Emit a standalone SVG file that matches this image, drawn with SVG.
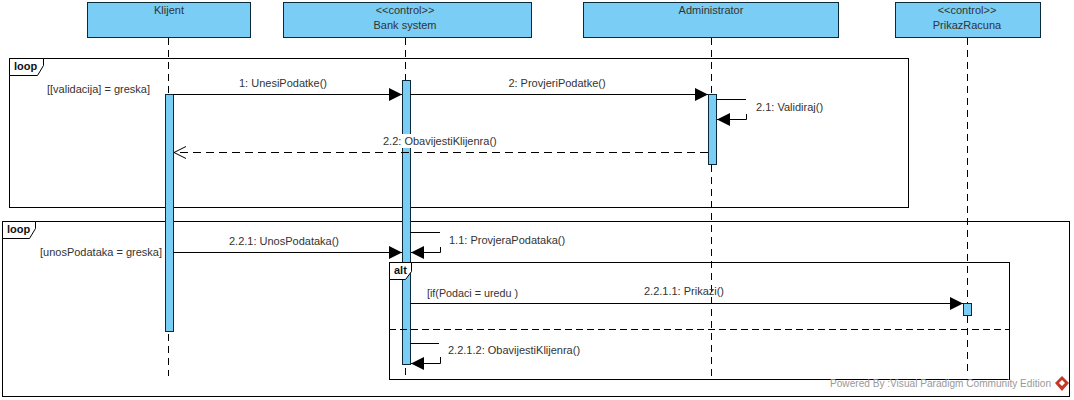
<svg xmlns="http://www.w3.org/2000/svg" width="1074" height="400" viewBox="0 0 1074 400">
<style>
text{font-family:"Liberation Sans",Arial,sans-serif;font-size:11px;fill:#333}
.c{text-anchor:middle}
.head{fill:#7acdf4;stroke:#0a2a3a;stroke-width:1}
.act{fill:#7acdf4;stroke:#0a2a3a;stroke-width:1}
.life{stroke:#000;stroke-width:1;stroke-dasharray:7 5;fill:none}
.frame{fill:none;stroke:#000;stroke-width:1}
.tab{fill:#fff;stroke:#000;stroke-width:1}
.b{font-weight:bold;fill:#111}
.msg{stroke:#000;stroke-width:1;fill:none}
.dash{stroke:#000;stroke-width:1;fill:none;stroke-dasharray:7 4}
.ret{stroke:#000;stroke-width:1;fill:none;stroke-dasharray:8 5}
</style>
<defs>
<marker id="solid" viewBox="0 0 13 13" markerUnits="userSpaceOnUse" markerWidth="13" markerHeight="13" refX="13" refY="6.5" orient="auto"><path d="M0 0L13 6.5L0 13Z" fill="#000"/></marker>
<marker id="open" viewBox="0 0 14 14" markerUnits="userSpaceOnUse" markerWidth="14" markerHeight="14" refX="13" refY="7" orient="auto"><path d="M1 1L13 7L1 13" fill="none" stroke="#000"/></marker>
</defs>
<g id="frames">
<g id="frame-loop1"><rect class="frame" x="9.500" y="58.500" width="899" height="149"/><path class="tab" d="M9.500 58.500H43.500V65.500L37.500 75.500H9.500Z"/><text class="b" x="14" y="70">loop</text></g>
<g id="frame-loop2"><rect class="frame" x="2.500" y="221.500" width="1067" height="175"/><path class="tab" d="M2.500 221.500H35.500V228.500L29.500 238.500H2.500Z"/><text class="b" x="7" y="233">loop</text></g>
</g>
<g id="lifelines">
<path class="life" d="M168.500 38V94M168.500 334V376"/>
<path class="life" d="M405.500 38V80M405.500 368V376"/>
<path class="life" d="M711.500 38V94M711.500 165V376"/>
<path class="life" d="M967.500 38V303M967.500 316V376"/>
</g>
<g id="node-klijent"><rect class="head" x="87.500" y="2.500" width="163" height="35"/><text class="c" x="169" y="14">Klijent</text><rect class="act" x="165.500" y="94.500" width="8" height="237"/></g>
<g id="node-bank"><rect class="head" x="283.500" y="2.500" width="248" height="35"/><text class="c" x="405" y="14">&lt;&lt;control&gt;&gt;</text><text class="c" x="405" y="29">Bank system</text><rect class="act" x="402.500" y="80.500" width="8" height="284"/></g>
<g id="node-admin"><rect class="head" x="583.500" y="2.500" width="255" height="35"/><text class="c" x="711" y="14">Administrator</text><rect class="act" x="708.500" y="94.500" width="8" height="70"/></g>
<g id="node-prikaz"><rect class="head" x="895.500" y="2.500" width="145" height="35"/><text class="c" x="967" y="14">&lt;&lt;control&gt;&gt;</text><text class="c" x="967" y="29">PrikazRacuna</text><rect class="act" x="963.500" y="303.500" width="8" height="12"/></g>
<g id="frame-alt"><rect class="frame" x="389.500" y="262.500" width="620" height="117"/><path class="tab" d="M389.500 262.500H411.500V271.500L405.500 279.500H389.500Z"/><text class="b" x="394" y="274">alt</text><path class="dash" d="M389 329.500H1009"/></g>
<g id="connectors">
<path class="msg" d="M173 94.500H402" marker-end="url(#solid)"/>
<path class="msg" d="M410 94.500H708" marker-end="url(#solid)"/>
<path class="msg" d="M716 99.500H746M746.500 114V119.500H717" marker-end="url(#solid)"/>
<path class="ret" d="M708 152.500H174" marker-end="url(#open)"/>
<path class="msg" d="M173 252.500H402" marker-end="url(#solid)"/>
<path class="msg" d="M410 232.500H440M440.500 247V252.500H411" marker-end="url(#solid)"/>
<path class="msg" d="M410 303.500H963" marker-end="url(#solid)"/>
<path class="msg" d="M410 343.500H439M440.500 357V363.500H411" marker-end="url(#solid)"/>
</g>
<g id="labels">
<text x="47" y="93">[[validacija] = greska]</text>
<text class="c" x="283" y="87">1: UnesiPodatke()</text>
<text class="c" x="557" y="87">2: ProvjeriPodatke()</text>
<text x="756" y="111">2.1: Validiraj()</text>
<rect x="383" y="134" width="116" height="14" fill="#fff"/>
<text x="383" y="145">2.2: ObavijestiKlijenra()</text>
<text x="40" y="256">[unosPodataka = greska]</text>
<text class="c" x="284" y="245">2.2.1: UnosPodataka()</text>
<text x="449" y="244">1.1: ProvjeraPodataka()</text>
<text x="427" y="297" textLength="91" lengthAdjust="spacingAndGlyphs">[if(Podaci = uredu )</text>
<text class="c" x="684" y="295">2.2.1.1: Prikazi()</text>
<text x="448" y="354">2.2.1.2: ObavijestiKlijenra()</text>
</g>
<g id="watermark">
<text x="830" y="387" textLength="221" lengthAdjust="spacingAndGlyphs" style="fill:#999">Powered By :Visual Paradigm Community Edition</text>
<path d="M1062 376L1069 383L1062 391L1055 383Z" fill="#c0392b"/><path d="M1062 380L1065 383L1062 386L1059 383Z" fill="#fff"/>
</g>
</svg>
